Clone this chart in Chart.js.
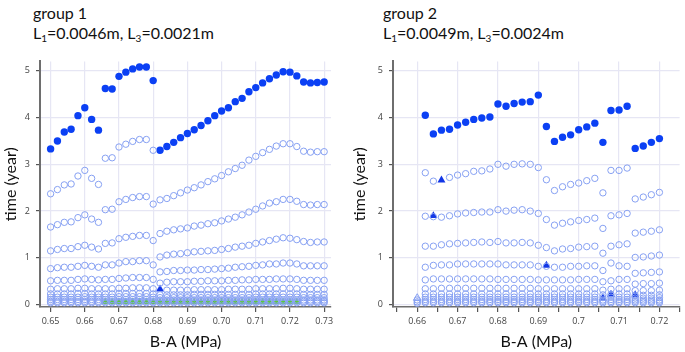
<!DOCTYPE html>
<html><head><meta charset="utf-8">
<script src="https://cdn.jsdelivr.net/npm/chart.js@4.4.0/dist/chart.umd.min.js"></script>
<style>
html,body{margin:0;padding:0;background:#fff;width:685px;height:352px;overflow:hidden;font-family:Lato,"Open Sans",sans-serif;}
.title{position:absolute;font-size:16px;line-height:20px;color:#111;white-space:nowrap;}
.title sub{font-size:10px;vertical-align:-3px;line-height:0;}
.box{position:absolute;top:50px;height:302px;}
</style></head><body>
<div class="title" style="left:33px;top:3px">group 1<br>L<sub>1</sub>=0.0046m, L<sub>3</sub>=0.0021m</div>
<div class="title" style="left:383px;top:3px">group 2<br>L<sub>1</sub>=0.0049m, L<sub>3</sub>=0.0024m</div>
<div class="box" style="left:0;width:340px"><canvas id="c1" width="340" height="302"></canvas></div>
<div class="box" style="left:350px;width:335px"><canvas id="c2" width="335" height="302"></canvas></div>
<script>
// ---------- group 1 ----------
const g1X = [0.650,0.652,0.654,0.656,0.658,0.660,0.662,0.664,0.666,0.668,0.670,0.672,0.674,0.676,0.678,0.680,0.682,0.684,0.686,0.688,0.690,0.692,0.694,0.696,0.698,0.700,0.702,0.704,0.706,0.708,0.710,0.712,0.714,0.716,0.718,0.720,0.722,0.724,0.726,0.728,0.730];
const g1Filled = [3.33,3.50,3.69,3.75,4.04,4.21,3.96,3.73,4.62,4.61,4.88,4.97,5.04,5.08,5.08,4.79,3.30,3.38,3.47,3.57,3.66,3.74,3.83,3.93,4.04,4.14,4.21,4.34,4.41,4.55,4.64,4.74,4.83,4.91,4.98,4.97,4.89,4.76,4.74,4.75,4.76];
const g1Open1 = [2.37,2.46,2.56,2.58,2.75,2.87,2.70,2.57,3.13,3.14,3.37,3.43,3.49,3.53,3.53,3.30,2.24,2.27,2.33,2.39,2.45,2.50,2.56,2.63,2.69,2.76,2.84,2.91,2.98,3.09,3.17,3.25,3.32,3.39,3.44,3.44,3.38,3.28,3.26,3.27,3.27];
const g1Open2 = [1.66,1.71,1.76,1.77,1.86,1.92,1.83,1.76,2.03,2.04,2.20,2.25,2.29,2.31,2.31,2.15,1.52,1.57,1.60,1.62,1.64,1.68,1.70,1.73,1.75,1.79,1.83,1.87,1.92,1.98,2.04,2.11,2.17,2.20,2.25,2.25,2.21,2.14,2.13,2.14,2.14];
const g1Open3 = [1.15,1.18,1.20,1.20,1.24,1.27,1.23,1.19,1.31,1.32,1.41,1.44,1.46,1.48,1.48,1.37,1.02,1.06,1.08,1.09,1.11,1.13,1.14,1.15,1.16,1.18,1.20,1.23,1.25,1.27,1.31,1.34,1.37,1.40,1.43,1.42,1.39,1.35,1.33,1.34,1.34];
const g1Open4 = [0.77,0.79,0.80,0.80,0.82,0.84,0.82,0.80,0.85,0.85,0.89,0.92,0.92,0.94,0.94,0.85,0.70,0.71,0.73,0.73,0.74,0.74,0.75,0.75,0.76,0.77,0.78,0.80,0.81,0.82,0.84,0.85,0.87,0.87,0.89,0.89,0.87,0.83,0.83,0.83,0.83];
const g1Open5 = [0.51,0.52,0.52,0.52,0.54,0.55,0.54,0.53,0.54,0.54,0.56,0.57,0.58,0.58,0.58,0.54,0.46,0.48,0.49,0.49,0.49,0.50,0.50,0.51,0.51,0.51,0.52,0.52,0.53,0.53,0.54,0.54,0.54,0.55,0.55,0.55,0.54,0.52,0.52,0.52,0.52];
const g1Open6 = [0.33,0.34,0.34,0.34,0.35,0.35,0.34,0.34,0.34,0.34,0.35,0.35,0.36,0.36,0.36,0.34,null,0.31,0.31,0.31,0.31,0.32,0.32,0.32,0.32,0.32,0.33,0.33,0.33,0.33,0.34,0.34,0.34,0.34,0.35,0.35,0.34,0.33,0.33,0.33,0.33];
const g1Open7 = [0.23,0.23,0.23,0.23,0.24,0.24,0.23,0.23,0.23,0.23,0.24,0.24,0.24,0.24,0.24,0.23,0.21,0.21,0.21,0.21,0.21,0.22,0.22,0.22,0.22,0.22,0.22,0.22,0.22,0.22,0.23,0.23,0.23,0.23,0.23,0.23,0.23,0.22,0.22,0.22,0.22];
const g1Open8 = [0.16,0.16,0.16,0.16,0.16,0.17,0.16,0.16,0.16,0.16,0.17,0.17,0.17,0.17,0.17,0.16,0.15,0.15,0.15,0.15,0.15,0.15,0.15,0.15,0.15,0.15,0.15,0.15,0.15,0.15,0.16,0.16,0.16,0.16,0.16,0.16,0.16,0.15,0.15,0.15,0.15];
const g1Open9 = [0.11,0.11,0.11,0.11,0.11,0.11,0.11,0.11,0.11,0.11,0.11,0.11,0.11,0.11,0.11,0.11,0.10,0.10,0.10,0.10,0.10,0.10,0.10,0.10,0.10,0.10,0.10,0.10,0.10,0.10,0.10,0.10,0.10,0.10,0.10,0.10,0.10,0.10,0.10,0.10,0.10];
const g1Open10 = [0.07,0.07,0.07,0.07,0.07,0.07,0.07,0.07,0.07,0.07,0.07,0.07,0.07,0.07,0.07,0.07,0.07,0.07,0.07,0.07,0.07,0.07,0.07,0.07,0.07,0.07,0.07,0.07,0.07,0.07,0.07,0.07,0.07,0.07,0.07,0.07,0.07,0.07,0.07,0.07,0.07];
const g1Open11 = [0.04,0.04,0.04,0.04,0.04,0.04,0.04,0.04,0.04,0.04,0.04,0.04,0.04,0.04,0.04,0.04,0.04,0.04,0.04,0.04,0.04,0.04,0.04,0.04,0.04,0.04,0.04,0.04,0.04,0.04,0.04,0.04,0.04,0.04,0.04,0.04,0.04,0.04,0.04,0.04,0.04];
const g1Green = [null,null,null,null,null,null,null,null,0.06,0.06,0.06,0.06,0.06,0.06,0.06,0.06,0.06,0.06,0.06,0.06,0.06,0.06,0.06,0.06,0.06,0.06,0.06,0.06,0.06,0.06,0.06,0.06,0.06,0.06,0.06,0.06,0.06,null,null,null,null];
const g1TriX = [0.682];
const g1TriY = [0.33];
const g1TickValues = [0.65,0.66,0.67,0.68,0.69,0.70,0.71,0.72,0.73];
const g1TickLabels = ['0.65','0.66','0.67','0.68','0.69','0.70','0.71','0.72','0.73'];

// ---------- group 2 ----------
const g2X = [0.660,0.662,0.664,0.666,0.668,0.670,0.672,0.674,0.676,0.678,0.680,0.682,0.684,0.686,0.688,0.690,0.692,0.694,0.696,0.698,0.700,0.702,0.704,0.706,0.708,0.710,0.712,0.714,0.716,0.718,0.720];
const g2Filled = [null,4.05,3.65,3.73,3.75,3.84,3.90,3.96,3.99,4.01,4.29,4.24,4.30,4.33,4.34,4.48,3.81,3.49,3.58,3.63,3.74,3.80,3.88,3.47,4.15,4.16,4.24,3.34,3.39,3.47,3.55];
const g2Open1 = [null,2.82,2.64,null,2.72,2.77,2.80,2.85,2.86,2.90,3.00,2.96,3.00,3.01,3.00,2.93,2.67,2.44,2.52,2.57,2.60,2.65,2.70,2.39,2.87,2.87,2.92,2.26,2.30,2.35,2.40];
const g2Open2 = [null,1.89,1.88,1.87,1.90,1.94,1.96,1.97,1.98,1.98,2.03,2.00,2.02,2.03,2.00,1.95,1.82,1.70,1.74,1.77,1.80,1.82,1.85,1.63,1.90,1.92,1.95,1.53,1.55,1.57,1.60];
const g2Open3 = [null,1.25,1.25,1.28,1.30,1.31,1.32,1.33,1.34,1.33,1.35,1.32,1.32,1.33,1.32,1.27,1.22,1.15,1.19,1.20,1.23,1.24,1.25,1.10,1.25,1.28,1.30,1.01,1.02,1.04,1.06];
const g2Open4 = [null,0.80,0.84,0.85,0.85,0.87,0.87,0.87,0.87,0.87,0.87,0.85,0.85,0.85,0.85,0.82,0.82,0.80,0.80,0.82,0.82,0.83,0.83,0.73,0.89,0.83,0.82,0.67,0.68,0.69,0.70];
const g2Open5 = [null,0.53,0.55,0.55,0.55,0.55,0.55,0.55,0.55,0.55,0.54,0.54,0.54,0.54,0.54,0.53,0.53,0.53,0.53,0.53,0.54,0.54,0.54,0.49,0.51,0.54,0.54,0.44,0.45,0.45,0.46];
const g2Open6 = [null,0.34,0.34,0.35,0.35,0.35,0.35,0.35,0.35,0.35,0.35,0.35,0.35,0.35,0.35,0.34,0.34,0.34,0.34,0.34,0.34,0.34,0.34,0.31,0.33,0.34,0.34,0.30,0.30,0.30,0.31];
const g2Open7 = [null,0.23,0.23,0.23,0.23,0.23,0.23,0.23,0.23,0.23,0.23,0.23,0.23,0.23,0.23,0.23,0.23,0.23,0.23,0.23,0.23,0.23,0.23,0.21,0.22,0.23,0.23,0.20,0.20,0.20,0.21];
const g2Open8 = [null,0.16,0.16,0.16,0.16,0.16,0.16,0.16,0.16,0.16,0.16,0.16,0.16,0.16,0.16,0.16,0.16,0.16,0.16,0.16,0.16,0.16,0.16,0.15,0.16,0.16,0.16,0.14,0.14,0.14,0.15];
const g2Open9 = [0.10,0.11,0.11,0.11,0.11,0.11,0.11,0.11,0.11,0.11,0.11,0.11,0.11,0.11,0.11,0.11,0.11,0.11,0.11,0.11,0.11,0.11,0.11,0.10,0.11,0.11,0.11,0.10,0.10,0.10,0.10];
const g2Open10 = [0.06,0.07,0.07,0.07,0.07,0.07,0.07,0.07,0.07,0.07,0.07,0.07,0.07,0.07,0.07,0.07,0.07,0.07,0.07,0.07,0.07,0.07,0.07,0.07,0.07,0.07,0.07,0.07,0.07,0.07,0.07];
const g2Open11 = [0.03,0.04,0.04,0.04,0.04,0.04,0.04,0.04,0.04,0.04,0.04,0.04,0.04,0.04,0.04,0.04,0.04,0.04,0.04,0.04,0.04,0.04,0.04,0.04,0.04,0.04,0.04,0.04,0.04,0.04,0.04];
const g2TriX = [0.664,0.666,0.692,0.706,0.708,0.714];
const g2TriY = [1.90,2.66,0.84,0.14,0.22,0.21];
const g2HollowTriX = [0.660];
const g2HollowTriY = [0.14];
const g2TickValues = [0.655,0.66,0.665,0.67,0.675,0.68,0.685,0.69,0.695,0.70,0.705,0.71,0.715,0.72,0.725];
const g2TickLabels = ['','0.66','','0.67','','0.68','','0.69','','0.7','','0.71','','0.72',''];

const yTickValues = [0,1,2,3,4,5];
const yTickLabels = ['0','1','2','3','4','5'];

// ---------- helpers ----------
function pts(xs, ys){ const out=[]; xs.forEach((x,i)=>{ if(ys[i]!=null) out.push({x:x,y:ys[i]}); }); return out; }
const OPEN = '#86a0f2';
function openDs(xs, ys){ return {data:pts(xs,ys), pointStyle:'circle', pointRadius:3.2, pointBorderWidth:1, pointBorderColor:OPEN, pointBackgroundColor:'rgba(255,255,255,0)', showLine:false}; }
function filledDs(xs, ys){ return {data:pts(xs,ys), pointStyle:'circle', pointRadius:3.7, pointBorderWidth:0, pointBorderColor:'#0b40f4', pointBackgroundColor:'#0b40f4', showLine:false}; }
function triDs(xs, ys){ return {data:pts(xs,ys), pointStyle:'triangle', pointRadius:4.6, pointBorderWidth:0, pointBorderColor:'#1236e6', pointBackgroundColor:'#1236e6', showLine:false}; }
function greenDs(xs, ys){ return {data:pts(xs,ys), pointStyle:'triangle', pointRadius:3.6, pointBorderWidth:0.5, pointBorderColor:'#3fae2a', pointBackgroundColor:'#5cc83c', showLine:false}; }
function hollowTriDs(xs, ys){ return {data:pts(xs,ys), pointStyle:'triangle', pointRadius:4.4, pointBorderWidth:1, pointBorderColor:OPEN, pointBackgroundColor:'rgba(255,255,255,0)', showLine:false}; }

function near(a,b){ return Math.abs(a-b)<1e-9; }
function makeOptions(xmin, xmax, tickVals, tickLabels, yAxisWidth, padRight, titleLeftPad){
  const fam = '"Open Sans", sans-serif';
  return {
    responsive:false, animation:false, devicePixelRatio:1,
    layout:{padding:{top:9, right:padRight, left:0, bottom:0}},
    plugins:{legend:{display:false}, tooltip:{enabled:false}},
    scales:{
      x:{type:'linear', min:xmin, max:xmax,
        afterBuildTicks:(s)=>{ s.ticks = tickVals.map(v=>({value:v})); },
        afterFit:(s)=>{ s.height = 45; },
        border:{color:'#6e6e6e', width:1.5},
        grid:{color:(c)=>{ const i = tickVals.findIndex(v=>near(v,c.tick.value)); return (i>=0 && tickLabels[i]!=='') ? '#e6e6f4' : 'rgba(0,0,0,0)'; },
              lineWidth:1.2, tickColor:'#555', tickLength:5, drawTicks:true},
        ticks:{font:{size:9, family:fam}, color:'#444', padding:4, maxRotation:0, autoSkip:false,
          callback:(v)=>{ const i = tickVals.findIndex(t=>near(t,v)); return i>=0 ? tickLabels[i] : ''; }},
        title:{display:true, text:'B-A (MPa)', color:'#111', font:{size:16, family:'Lato, "Open Sans", sans-serif'}, padding:{top:0,bottom:1}}
      },
      y:{type:'linear', min:-0.05, max:5.2,
        afterBuildTicks:(s)=>{ s.ticks = yTickValues.map(v=>({value:v})); },
        afterFit:(s)=>{ s.width = yAxisWidth; },
        border:{color:'#6e6e6e', width:2},
        grid:{color:'#e6e6f4', lineWidth:1.2, tickColor:'#555', tickLength:4, drawTicks:true},
        ticks:{font:{size:9, family:fam}, color:'#444', padding:6,
          callback:(v)=>{ const i = yTickValues.findIndex(t=>near(t,v)); return i>=0 ? yTickLabels[i] : ''; }},
        title:{display:true, text:'time (year)', color:'#111', font:{size:16, family:'Lato, "Open Sans", sans-serif'}, padding:{top:titleLeftPad,bottom:0}}
      }
    }
  };
}

new Chart(document.getElementById('c1'), {
  type:'scatter',
  data:{datasets:[
    openDs(g1X,g1Open11), openDs(g1X,g1Open10), openDs(g1X,g1Open9), openDs(g1X,g1Open8), openDs(g1X,g1Open7),
    openDs(g1X,g1Open6), openDs(g1X,g1Open5), openDs(g1X,g1Open4), openDs(g1X,g1Open3), openDs(g1X,g1Open2), openDs(g1X,g1Open1),
    filledDs(g1X,g1Filled), triDs(g1TriX,g1TriY), greenDs(g1X,g1Green)
  ]},
  options: makeOptions(0.6469, 0.732, g1TickValues, g1TickLabels, 40, 9, 1.5)
});

new Chart(document.getElementById('c2'), {
  type:'scatter',
  data:{datasets:[
    openDs(g2X,g2Open11), openDs(g2X,g2Open10), openDs(g2X,g2Open9), openDs(g2X,g2Open8), openDs(g2X,g2Open7),
    openDs(g2X,g2Open6), openDs(g2X,g2Open5), openDs(g2X,g2Open4), openDs(g2X,g2Open3), openDs(g2X,g2Open2), openDs(g2X,g2Open1),
    hollowTriDs(g2HollowTriX,g2HollowTriY), filledDs(g2X,g2Filled), triDs(g2TriX,g2TriY)
  ]},
  options: makeOptions(0.654, 0.725, g2TickValues, g2TickLabels, 43, 2, 0)
});
</script>
</body></html>
